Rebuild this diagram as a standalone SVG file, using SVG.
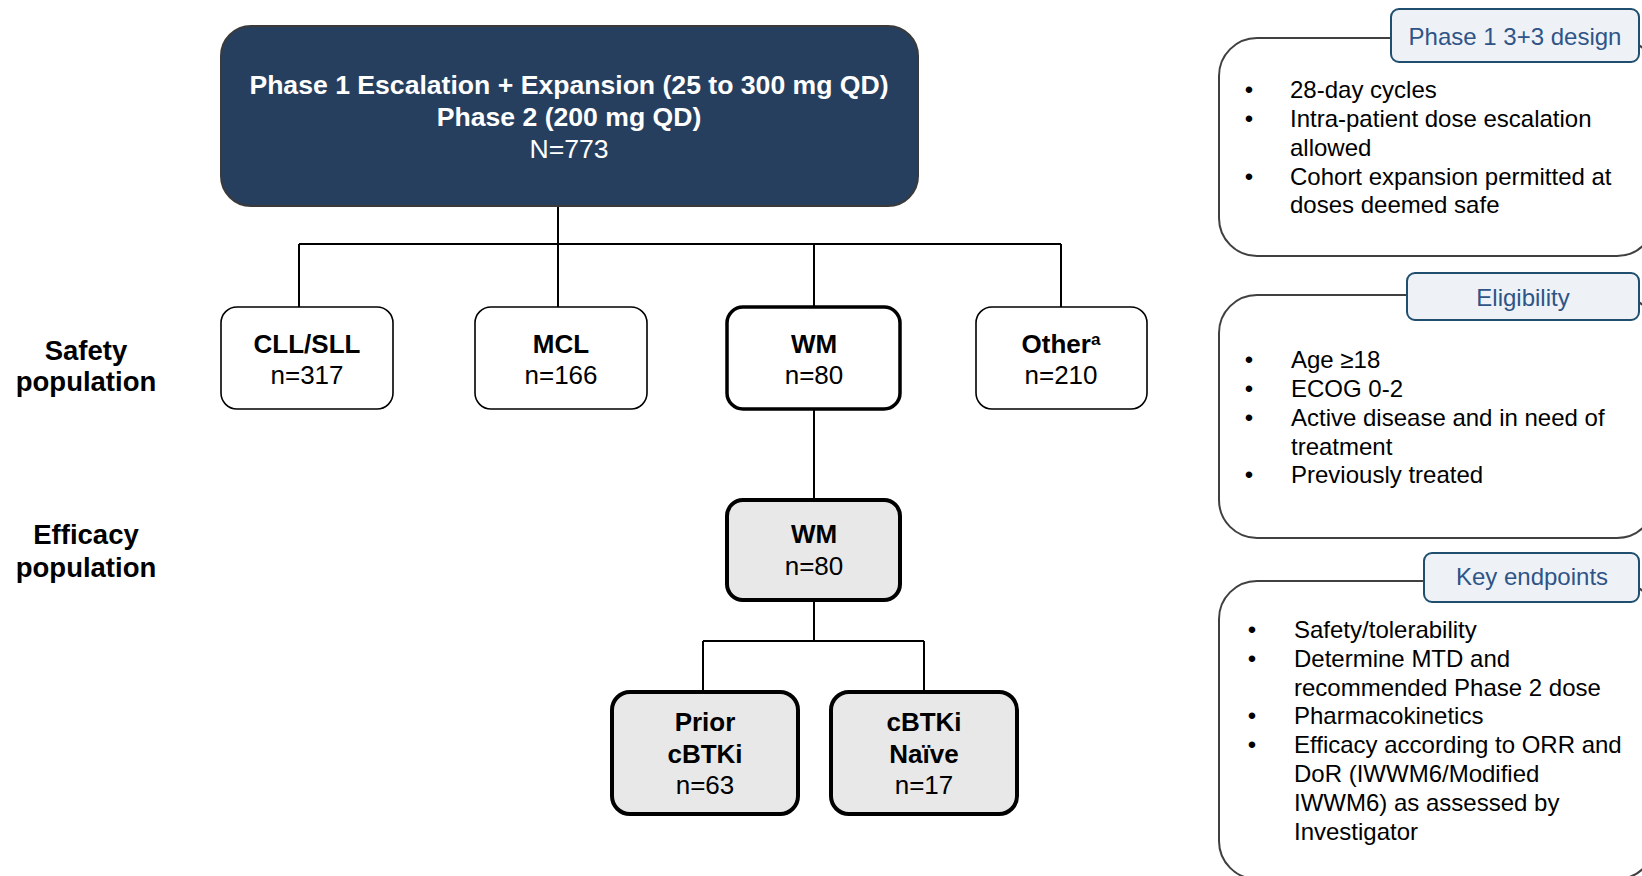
<svg xmlns="http://www.w3.org/2000/svg" width="1642" height="876" viewBox="0 0 1642 876">
<style>
text{font-family:"Liberation Sans",Arial,Helvetica,sans-serif}
.b{font-weight:bold}
.c{text-anchor:middle}
.box{fill:#fff;stroke:#000;stroke-width:1.6}
.thick{fill:#fff;stroke:#000;stroke-width:3.5}
.grey{fill:#e8e8e8;stroke:#000;stroke-width:4}
.t26{font-size:26px;fill:#000}
.lbl{font-size:27.5px;font-weight:bold;fill:#000;text-anchor:middle}
.panel{fill:#fff;stroke:#404040;stroke-width:2}
.tab{fill:#eef2f6;stroke:#1f4e6e;stroke-width:2}
.tabt{font-size:24px;fill:#2f5487;text-anchor:middle}
.li{font-size:24px;fill:#000}
.bu{font-size:24px;fill:#000;text-anchor:middle}
.conn{fill:none;stroke:#000;stroke-width:2}
</style>

<g id="connectors">
<path class="conn" d="M558 206V244M299 244H1061M299 244V307M558 244V307M814 244V307M1061 244V307"/>
<path class="conn" d="M814 409V500"/>
<path class="conn" d="M814 600V641M703 641H924M703 641V692M924 641V692"/>
</g>

<g id="top">
<rect x="221" y="26" width="697" height="180" rx="30" fill="#273f5f" stroke="#3a3a3a" stroke-width="2"/>
<text class="c b" x="569" y="94" font-size="26.6" fill="#fff">Phase 1 Escalation + Expansion (25 to 300 mg QD)</text>
<text class="c b" x="569" y="126" font-size="26.6" fill="#fff">Phase 2 (200 mg QD)</text>
<text class="c" x="569" y="158" font-size="26.6" fill="#fff">N=773</text>
</g>

<g id="label-safety">
<text class="lbl" x="86" y="360">Safety</text>
<text class="lbl" x="86" y="391">population</text>
</g>
<g id="label-efficacy">
<text class="lbl" x="86" y="544">Efficacy</text>
<text class="lbl" x="86" y="577">population</text>
</g>

<g id="cll">
<rect class="box" x="221" y="307" width="172" height="102" rx="16"/>
<text class="c b t26" x="307" y="353">CLL/SLL</text>
<text class="c t26" x="307" y="384">n=317</text>
</g>
<g id="mcl">
<rect class="box" x="475" y="307" width="172" height="102" rx="16"/>
<text class="c b t26" x="561" y="353">MCL</text>
<text class="c t26" x="561" y="384">n=166</text>
</g>
<g id="wm-safety">
<rect class="thick" x="727" y="307" width="173" height="102" rx="16"/>
<text class="c b t26" x="814" y="353">WM</text>
<text class="c t26" x="814" y="384">n=80</text>
</g>
<g id="other">
<rect class="box" x="976" y="307" width="171" height="102" rx="16"/>
<text class="c b t26" x="1061" y="353">Other<tspan font-size="17" dy="-8">a</tspan></text>
<text class="c t26" x="1061" y="384">n=210</text>
</g>

<g id="wm-efficacy">
<rect class="grey" x="727" y="500" width="173" height="100" rx="16"/>
<text class="c b t26" x="814" y="543">WM</text>
<text class="c t26" x="814" y="575">n=80</text>
</g>
<g id="prior">
<rect class="grey" x="612" y="692" width="186" height="122" rx="18"/>
<text class="c b t26" x="705" y="731">Prior</text>
<text class="c b t26" x="705" y="763">cBTKi</text>
<text class="c t26" x="705" y="794">n=63</text>
</g>
<g id="naive">
<rect class="grey" x="831" y="692" width="186" height="122" rx="18"/>
<text class="c b t26" x="924" y="731">cBTKi</text>
<text class="c b t26" x="924" y="763">Naïve</text>
<text class="c t26" x="924" y="794">n=17</text>
</g>

<g id="panel-design">
<rect class="panel" x="1219" y="38" width="436" height="218" rx="38"/>
<rect class="tab" x="1391" y="9" width="248" height="53" rx="8"/>
<text class="tabt" x="1515" y="45">Phase 1 3+3 design</text>
<text class="bu" x="1249" y="98">•</text><text class="li" x="1290" y="98">28-day cycles</text>
<text class="bu" x="1249" y="127">•</text><text class="li" x="1290" y="127">Intra-patient dose escalation</text>
<text class="li" x="1290" y="156">allowed</text>
<text class="bu" x="1249" y="185">•</text><text class="li" x="1290" y="185">Cohort expansion permitted at</text>
<text class="li" x="1290" y="213">doses deemed safe</text>
</g>

<g id="panel-eligibility">
<rect class="panel" x="1219" y="295" width="436" height="243" rx="38"/>
<rect class="tab" x="1407" y="273" width="232" height="47" rx="8"/>
<text class="tabt" x="1523" y="306">Eligibility</text>
<text class="bu" x="1249" y="368">•</text><text class="li" x="1291" y="368">Age ≥18</text>
<text class="bu" x="1249" y="397">•</text><text class="li" x="1291" y="397">ECOG 0-2</text>
<text class="bu" x="1249" y="426">•</text><text class="li" x="1291" y="426">Active disease and in need of</text>
<text class="li" x="1291" y="455">treatment</text>
<text class="bu" x="1249" y="483">•</text><text class="li" x="1291" y="483">Previously treated</text>
</g>

<g id="panel-endpoints">
<rect class="panel" x="1219" y="581" width="436" height="298" rx="38"/>
<rect class="tab" x="1424" y="553" width="215" height="49" rx="8"/>
<text class="tabt" x="1532" y="585">Key endpoints</text>
<text class="bu" x="1252" y="638">•</text><text class="li" x="1294" y="638">Safety/tolerability</text>
<text class="bu" x="1252" y="667">•</text><text class="li" x="1294" y="667">Determine MTD and</text>
<text class="li" x="1294" y="696">recommended Phase 2 dose</text>
<text class="bu" x="1252" y="724">•</text><text class="li" x="1294" y="724">Pharmacokinetics</text>
<text class="bu" x="1252" y="753">•</text><text class="li" x="1294" y="753">Efficacy according to ORR and</text>
<text class="li" x="1294" y="782">DoR (IWWM6/Modified</text>
<text class="li" x="1294" y="811">IWWM6) as assessed by</text>
<text class="li" x="1294" y="840">Investigator</text>
</g>
</svg>
